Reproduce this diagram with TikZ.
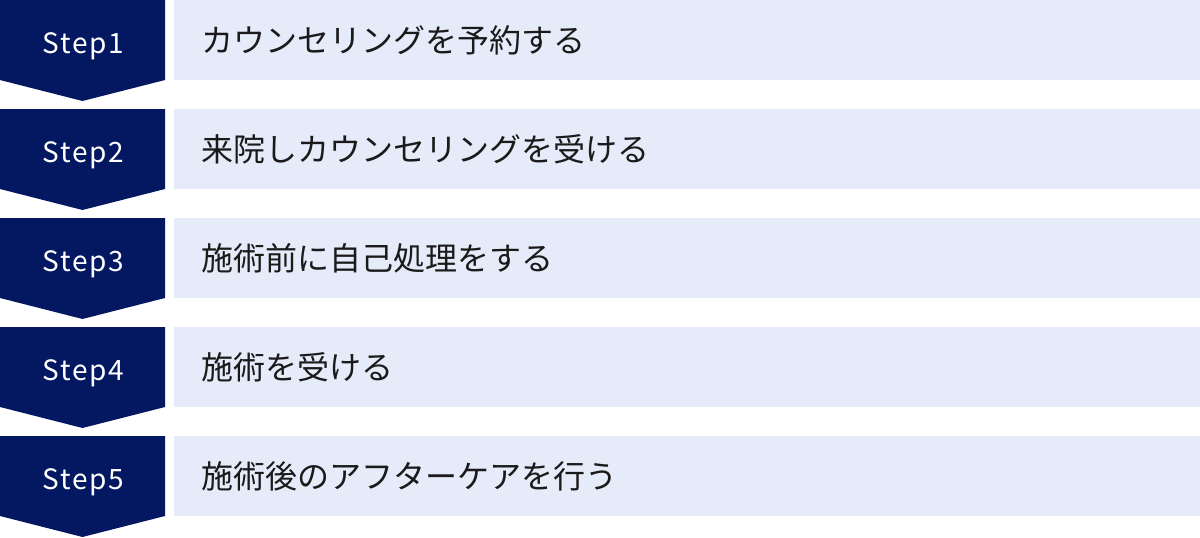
\documentclass[tikz,border=0pt]{standalone}
\usepackage{fontspec}
\setmainfont{Noto Sans CJK JP}
\definecolor{navy}{HTML}{041862}
\definecolor{pale}{HTML}{E5EBF8}
\definecolor{ink}{HTML}{1A1A1A}
\tikzset{
  badge/.style={fill=navy},
  steplabel/.style={text=white, inner sep=0pt, anchor=base, font=\fontsize{28}{34}\selectfont\addfontfeature{LetterSpace=6}},
  panel/.style={fill=pale, draw=none, minimum width=1026pt, minimum height=80pt, inner sep=0pt, anchor=north west},
  paneltext/.style={text=ink, inner sep=0pt, anchor=west, font=\fontsize{32}{38}\selectfont},
}
\begin{document}
\begin{tikzpicture}[x=1pt,y=-1pt]
\useasboundingbox (0,0) rectangle (1200,538);
\foreach \i/\t in {1/{カウンセリングを予約する},2/{来院しカウンセリングを受ける},3/{施術前に自己処理をする},4/{施術を受ける},5/{施術後のアフターケアを行う}}{
  \pgfmathsetmacro{\top}{(\i-1)*109}
  \fill[badge] (0,\top) -- (165,\top) -- (165,\top+80) -- (82.5,\top+101) -- (0,\top+80) -- cycle;
  \node[steplabel] (s\i) at (83.5,\top+53) {Step\i};
  \node[panel] (p\i) at (174,\top) {};
  \node[paneltext] (t\i) at (201,\top+40) {\t};
}
\end{tikzpicture}
\end{document}
